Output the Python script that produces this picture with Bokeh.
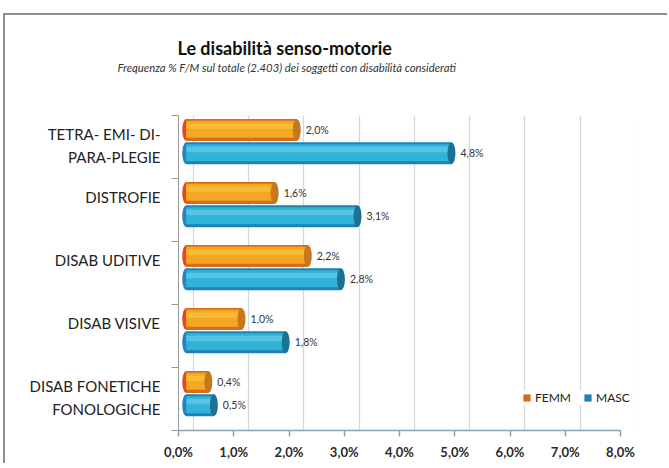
from bokeh.plotting import figure
from bokeh.models import (Range1d, FixedTicker, Grid, Legend, LegendItem,
                          ColumnDataSource, Title)
from bokeh.core.properties import value
from bokeh.embed import file_html
from bokeh.resources import INLINE

# ---------------- data ----------------
categories = ["TETRA- EMI- DI-\nPARA-PLEGIE", "DISTROFIE", "DISAB UDITIVE",
              "DISAB VISIVE", "DISAB FONETICHE\nFONOLOGICHE"]
femm = [2.0, 1.6, 2.2, 1.0, 0.4]
masc = [4.8, 3.1, 2.8, 1.8, 0.5]
series_names = ["FEMM", "MASC"]
x_ticks = [0, 1, 2, 3, 4, 5, 6, 7, 8]
x_tick_labels = ["0,0%", "1,0%", "2,0%", "3,0%", "4,0%", "5,0%", "6,0%", "7,0%", "8,0%"]
title_text = "Le disabilità senso-motorie"
subtitle_text = "Frequenza %  F/M sul totale (2.403) dei soggetti con disabilità considerati"

FONT = "Lato"

# ---------------- layout ----------------
W, H = 664, 450
px_per_unit = 55.25
frame_w = 456
x_end = frame_w / px_per_unit

n = len(categories)
cat_y = [n - i - 0.5 for i in range(n)]
femm_y = [c + 0.27 for c in cat_y]
masc_y = [c - 0.10 for c in cat_y]
label_y = [round(c + (0.02 if "\n" in name else 0.2), 3) for c, name in zip(cat_y, categories)]


def fmt(v):
    return f"{v:.1f}".replace(".", ",") + "%"


p = figure(width=W, height=H, output_backend="svg", toolbar_location=None,
           x_range=Range1d(0, x_end), y_range=Range1d(0, n),
           min_border_left=173, min_border_right=35, min_border_top=100,
           min_border_bottom=35, title=None)
p.margin = (13, 0, 0, 3)
p.styles = {"border-left": "2px solid #8f8f8f", "border-top": "2px solid #8f8f8f"}
p.extra_x_ranges = {
    "bars": Range1d(-0.14, x_end - 0.14),
    "back": Range1d(-0.27, x_end - 0.27),
}
p.outline_line_color = None
p.background_fill_color = "white"
p.border_fill_color = "white"
p.xgrid.visible = False
p.ygrid.visible = False

# back-wall grid lines
p.add_layout(Grid(dimension=0, ticker=FixedTicker(ticks=x_ticks), x_range_name="back",
                  grid_line_color="#cfd9e1", grid_line_width=1.3))

src_f = ColumnDataSource(dict(y=femm_y, v=femm, lab=[fmt(v) for v in femm],
                              y_hi=[y + 0.06 for y in femm_y], y_mid=[y + 0.01 for y in femm_y]))
src_m = ColumnDataSource(dict(y=masc_y, v=masc, lab=[fmt(v) for v in masc],
                              y_hi=[y + 0.06 for y in masc_y], y_mid=[y + 0.01 for y in masc_y]))

H_BAR = 0.35
styles = [
    (src_f, "#e5481e", "#dc6a1c", "#f5a623", "#fad246", "#c5781e"),
    (src_m, "#2a80c6", "#1f82b2", "#30b3d8", "#7fd6ee", "#1b7393"),
]
legend_renderers = []
for src, lcap, base, mid, hi, rcap in styles:
    p.ellipse(x=0, y="y", width=8, height=H_BAR, width_units="screen", source=src,
              fill_color=lcap, line_color=None, x_range_name="bars")
    r = p.hbar(y="y", left=0, right="v", height=H_BAR, source=src, fill_color=base,
               line_color=None, x_range_name="bars")
    p.hbar(y="y_mid", left=0, right="v", height=0.27, source=src, fill_color=mid,
           line_color=None, x_range_name="bars")
    p.hbar(y="y_hi", left=0, right="v", height=0.09, source=src, fill_color=hi,
           fill_alpha=0.5, line_color=None, x_range_name="bars")
    p.ellipse(x="v", y="y", width=8, height=H_BAR, width_units="screen", source=src,
              fill_color=rcap, line_color=None, x_range_name="bars")
    p.text(x="v", y="y", text="lab", source=src, x_offset=9, text_baseline="middle",
           text_font=value(FONT), text_font_size="10.5px", text_color="#333333",
           x_range_name="bars")
    legend_renderers.append(r)

# ---------------- axes ----------------
xa = p.xaxis[0]
xa.ticker = FixedTicker(ticks=x_ticks)
xa.major_label_overrides = {t: l for t, l in zip(x_ticks, x_tick_labels)}
xa.bounds = (0, 8)
xa.axis_line_color = "#8aa2b4"
xa.axis_line_width = 1.5
xa.major_tick_line_color = "#8aa2b4"
xa.major_tick_line_width = 1.5
xa.major_tick_out = 6
xa.major_tick_in = 0
xa.minor_tick_line_color = None
xa.major_label_standoff = 7
xa.major_label_text_font = FONT
xa.major_label_text_font_style = "bold"
xa.major_label_text_font_size = "13px"
xa.major_label_text_color = "#2a2a2a"

ya = p.yaxis[0]
ya.ticker = FixedTicker(ticks=label_y, minor_ticks=list(range(n + 1)))
ya.major_label_overrides = {t: c for t, c in zip(label_y, categories)}
ya.major_tick_line_color = None
ya.major_tick_out = 0
ya.major_tick_in = 0
ya.minor_tick_out = 7
ya.minor_tick_in = 0
ya.minor_tick_line_color = "#9a9a9a"
ya.axis_line_color = "#9a9a9a"
ya.major_label_standoff = 11
ya.major_label_text_font = FONT
ya.major_label_text_font_size = "15px"
ya.major_label_text_color = "#222222"
ya.major_label_text_line_height = 1.3

# ---------------- titles ----------------
p.add_layout(Title(text=" ", text_font_size="10px", standoff=29), "above")
p.add_layout(Title(text=subtitle_text, align="left", offset=-61, text_font=FONT, standoff=0,
                   text_font_style="italic", text_font_size="11.3px", text_color="#333333"),
             "above")
p.add_layout(Title(text=title_text, align="left", offset=-1, text_font=FONT, standoff=0,
                   text_font_style="bold", text_font_size="18px", text_color="#111111"),
             "above")
p.add_layout(Title(text=" ", text_font_size="10px", standoff=3), "above")

# ---------------- legend ----------------
legend = Legend(items=[LegendItem(label=s, renderers=[r]) for s, r in zip(series_names, legend_renderers)],
                location=(344, 25), orientation="horizontal", glyph_width=9, glyph_height=9,
                label_height=14, label_standoff=4, spacing=12, padding=4, margin=0,
                border_line_color=None, background_fill_color="white", background_fill_alpha=1,
                label_text_font=FONT, label_text_font_size="12px", label_text_color="#222222")
p.add_layout(legend)

open("out.html", "w").write(file_html(p, INLINE))
